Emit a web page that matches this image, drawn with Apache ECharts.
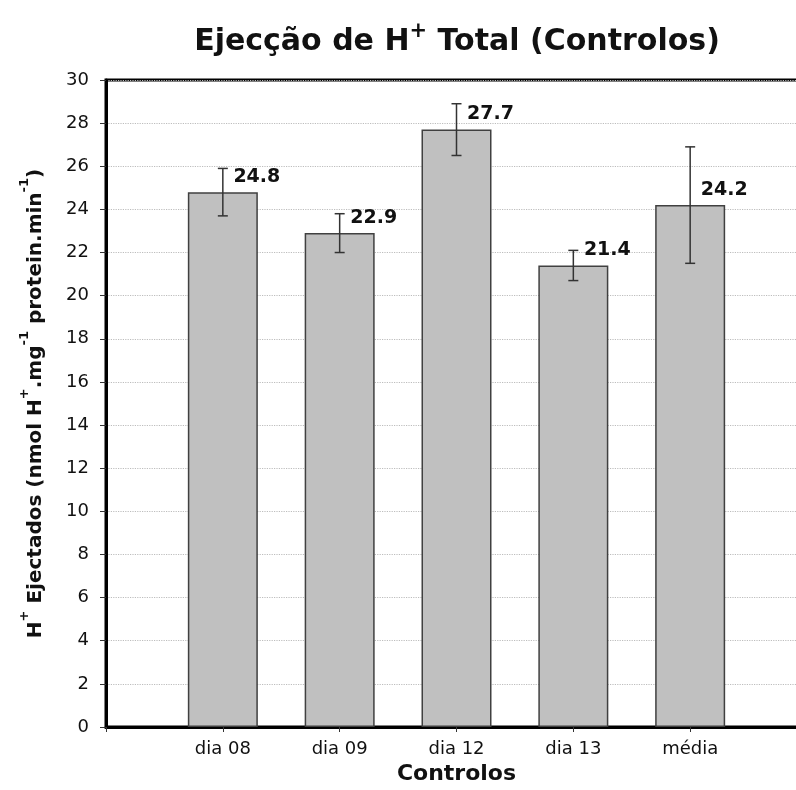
<!DOCTYPE html>
<html>
<head>
<meta charset="utf-8">
<script src="https://cdn.jsdelivr.net/npm/echarts@6/dist/echarts.min.js"></script>
<style>html,body{margin:0;padding:0;background:#fff;overflow:hidden}#c{width:796px;height:790px}</style>
</head>
<body>
<div id="c"></div>
<script>
// Data
var categories = ['dia 08', 'dia 09', 'dia 12', 'dia 13', 'média'];
var values = [24.8, 22.9, 27.7, 21.4, 24.2];
var errors = [1.1, 0.9, 1.2, 0.7, 2.7];
var yTicks = [0, 2, 4, 6, 8, 10, 12, 14, 16, 18, 20, 22, 24, 26, 28, 30];

// Axis padded with one empty slot on each side (category centres sit on ticks)
var axisCats = [''].concat(categories, ['']);
var barData = [null].concat(values, [null]);
var errData = categories.map(function (c, i) { return [i + 1, values[i] - errors[i], values[i] + errors[i]]; });

var FONT = 'DejaVu Sans';
var chart = echarts.init(document.getElementById('c'), null, { width: 796, height: 790 });
chart.setOption({
  animation: false,
  backgroundColor: '#ffffff',
  title: {
    text: '{t|Ejecção de H}{s|+}{t| Total (Controlos)}',
    left: 452, top: 16, textAlign: 'center',
    textStyle: {
      rich: {
        t: { fontFamily: FONT, fontWeight: 'bold', fontSize: 30, color: '#111', lineHeight: 36, verticalAlign: 'bottom' },
        s: { fontFamily: FONT, fontWeight: 'bold', fontSize: 21, color: '#111', lineHeight: 36, verticalAlign: 'top' }
      }
    }
  },
  grid: { left: 106, top: 80, width: 701, height: 647, outerBoundsMode: 'none', containLabel: false, show: true, borderColor: '#000', borderWidth: 3, backgroundColor: 'transparent' },
  xAxis: {
    type: 'category', data: axisCats, boundaryGap: false,
    axisLine: { lineStyle: { color: '#000', width: 3 } },
    axisTick: { length: 5, lineStyle: { color: '#333', width: 1 } },
    axisLabel: { color: '#111', fontFamily: FONT, fontSize: 18, margin: 13 },
    splitLine: { show: false },
    name: 'Controlos', nameLocation: 'middle', nameGap: 35,
    nameTextStyle: { fontFamily: FONT, fontWeight: 'bold', fontSize: 22, color: '#111' }
  },
  yAxis: {
    type: 'value', min: 0, max: 30, interval: 2,
    axisLine: { show: true, lineStyle: { color: '#000', width: 3 } },
    axisTick: { show: true, length: 6, lineStyle: { color: '#333', width: 1 } },
    axisLabel: { color: '#111', fontFamily: FONT, fontSize: 18, margin: 17 },
    splitLine: { show: true, lineStyle: { color: '#bdbdbd', type: 'dotted', width: 1.2 } },
    name: '{b|H}{s|+}{b| Ejectados (nmol H}{s|+}{b|.mg}{s|-1}{b| protein.min}{s|-1}{b|)}',
    nameLocation: 'middle', nameRotate: 90, nameGap: 60,
    nameTextStyle: {
      rich: {
        b: { fontFamily: FONT, fontWeight: 'bold', fontSize: 20, color: '#111', lineHeight: 28, verticalAlign: 'bottom' },
        s: { fontFamily: FONT, fontWeight: 'bold', fontSize: 13, color: '#111', lineHeight: 28, verticalAlign: 'top' }
      }
    }
  },
  series: [
    {
      type: 'bar', data: barData, barWidth: 70,
      itemStyle: { color: '#c0c0c0', borderColor: '#404040', borderWidth: 1.5 },
      label: {
        show: true, position: 'top', distance: 6, offset: [34, 0],
        formatter: function (p) { return p.value == null ? '' : p.value.toFixed(1); },
        fontFamily: FONT, fontWeight: 'bold', fontSize: 19, color: '#111'
      },
      z: 2
    },
    {
      type: 'custom', data: errData, z: 3,
      renderItem: function (params, api) {
        var x = api.value(0);
        var lo = api.coord([x, api.value(1)]);
        var hi = api.coord([x, api.value(2)]);
        var cw = 5;
        var st = { stroke: '#333', lineWidth: 1.5 };
        return {
          type: 'group', children: [
            { type: 'line', shape: { x1: lo[0], y1: lo[1], x2: hi[0], y2: hi[1] }, style: st },
            { type: 'line', shape: { x1: lo[0] - cw, y1: lo[1], x2: lo[0] + cw, y2: lo[1] }, style: st },
            { type: 'line', shape: { x1: hi[0] - cw, y1: hi[1], x2: hi[0] + cw, y2: hi[1] }, style: st }
          ]
        };
      }
    }
  ]
});
</script>
</body>
</html>
